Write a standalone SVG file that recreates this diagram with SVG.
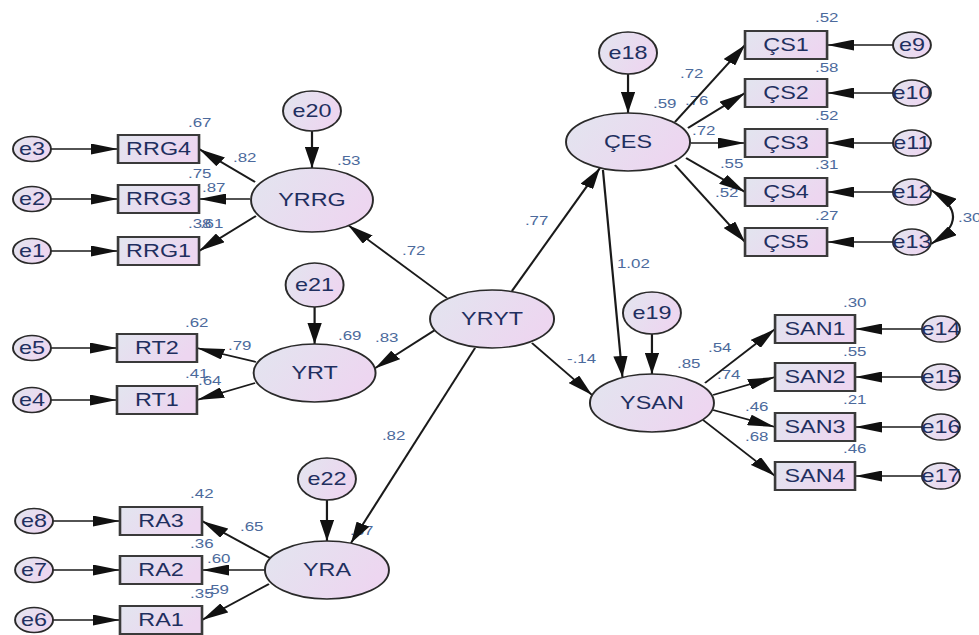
<svg xmlns="http://www.w3.org/2000/svg" width="979" height="635" viewBox="0 0 979 635">
<defs>
<linearGradient id="g" x1="0" y1="0" x2="1" y2="0.4">
<stop offset="0" stop-color="#e2e5ef"/>
<stop offset="1" stop-color="#edd6f0"/>
</linearGradient>
<marker id="ah" viewBox="0 0 21 11" refX="21" refY="5.5" markerWidth="21" markerHeight="11" markerUnits="userSpaceOnUse" orient="auto-start-reverse">
<path d="M0,0 L21,5.5 L0,11 z" fill="#111"/>
</marker>
<style>
.n{fill:url(#g);stroke:#2a2a2a;stroke-width:1.5}
.r{fill:url(#g);stroke:#3a3a3a;stroke-width:2}
.c{stroke:#1a1a1a;stroke-width:1.7;fill:none;marker-end:url(#ah)}
.cv{stroke:#1a1a1a;stroke-width:1.7;fill:none;marker-end:url(#ah);marker-start:url(#ah)}
.t{font-family:"Liberation Sans",Arial,sans-serif;font-size:18px;fill:#1f2f5f;text-anchor:middle}
.l{font-family:"Liberation Sans",Arial,sans-serif;font-size:13px;fill:#4c6a9c}
</style>
</defs>
<rect width="979" height="635" fill="#ffffff"/>
<g transform="scale(1.3,1)">
<g id="labels">
<text class="l" x="144.6" y="127">.67</text>
<text class="l" x="179.2" y="162">.82</text>
<text class="l" x="144.6" y="178">.75</text>
<text class="l" x="155.4" y="192">.87</text>
<text class="l" x="144.6" y="228">.38</text>
<text class="l" x="153.8" y="228">.61</text>
<text class="l" x="259.2" y="165">.53</text>
<text class="l" x="309.2" y="255">.72</text>
<text class="l" x="142.3" y="327">.62</text>
<text class="l" x="175.4" y="350">.79</text>
<text class="l" x="142.3" y="378">.41</text>
<text class="l" x="152.3" y="385">.64</text>
<text class="l" x="260" y="340">.69</text>
<text class="l" x="288.5" y="342">.83</text>
<text class="l" x="293.8" y="440">.82</text>
<text class="l" x="146.2" y="498">.42</text>
<text class="l" x="184.6" y="531">.65</text>
<text class="l" x="146.2" y="548">.36</text>
<text class="l" x="159.2" y="563">.60</text>
<text class="l" x="146.2" y="598">.35</text>
<text class="l" x="158.1" y="594">.59</text>
<text class="l" x="269.2" y="535">.67</text>
<text class="l" x="403.8" y="225">.77</text>
<text class="l" x="436.2" y="363">-.14</text>
<text class="l" x="474.6" y="268">1.02</text>
<text class="l" x="502.3" y="108">.59</text>
<text class="l" x="523.1" y="78">.72</text>
<text class="l" x="526.9" y="105">.76</text>
<text class="l" x="532.3" y="135">.72</text>
<text class="l" x="553.8" y="168">.55</text>
<text class="l" x="550" y="197">.52</text>
<text class="l" x="626.9" y="22">.52</text>
<text class="l" x="626.9" y="72">.58</text>
<text class="l" x="626.9" y="120">.52</text>
<text class="l" x="626.9" y="169">.31</text>
<text class="l" x="626.9" y="220">.27</text>
<text class="l" x="736.9" y="222">.30</text>
<text class="l" x="520.8" y="368">.85</text>
<text class="l" x="544.6" y="352">.54</text>
<text class="l" x="551.5" y="379">.74</text>
<text class="l" x="573.1" y="411">.46</text>
<text class="l" x="573.1" y="441">.68</text>
<text class="l" x="648.5" y="307">.30</text>
<text class="l" x="648.5" y="356">.55</text>
<text class="l" x="648.5" y="404">.21</text>
<text class="l" x="648.5" y="453">.46</text>
</g>
<g id="connectors">
<line class="c" x1="39.2" y1="149" x2="90.8" y2="149"/>
<line class="c" x1="39.2" y1="199" x2="90.8" y2="199"/>
<line class="c" x1="39.2" y1="251" x2="90.8" y2="251"/>
<line class="c" x1="39.2" y1="348" x2="90" y2="348"/>
<line class="c" x1="39.2" y1="400" x2="90" y2="400"/>
<line class="c" x1="40.8" y1="521" x2="92.3" y2="521"/>
<line class="c" x1="40.8" y1="570" x2="92.3" y2="570"/>
<line class="c" x1="40.8" y1="620" x2="92.3" y2="620"/>
<line class="c" x1="686.9" y1="45" x2="636.2" y2="45"/>
<line class="c" x1="686.9" y1="93" x2="636.2" y2="93"/>
<line class="c" x1="686.9" y1="143" x2="636.2" y2="143"/>
<line class="c" x1="686.9" y1="192" x2="636.2" y2="192"/>
<line class="c" x1="686.9" y1="242" x2="636.2" y2="242"/>
<line class="c" x1="709.2" y1="329" x2="657.7" y2="329"/>
<line class="c" x1="709.2" y1="377" x2="657.7" y2="377"/>
<line class="c" x1="709.2" y1="427" x2="657.7" y2="427"/>
<line class="c" x1="709.2" y1="476" x2="657.7" y2="476"/>
<line class="c" x1="240" y1="131" x2="240" y2="168"/>
<line class="c" x1="242" y1="307" x2="242" y2="344"/>
<line class="c" x1="251.5" y1="500" x2="251.5" y2="541"/>
<line class="c" x1="483.1" y1="74" x2="483.1" y2="113"/>
<line class="c" x1="501.5" y1="334" x2="501.5" y2="374"/>
<line class="c" x1="343.8" y1="298" x2="267.7" y2="225"/>
<line class="c" x1="334.6" y1="330" x2="288.3" y2="368.4"/>
<line class="c" x1="365.4" y1="348" x2="270" y2="543"/>
<line class="c" x1="393.8" y1="291" x2="461.5" y2="168"/>
<line class="c" x1="409.2" y1="343" x2="455.4" y2="395"/>
<line class="c" x1="463.8" y1="170" x2="478.8" y2="377"/>
<line class="c" x1="196.2" y1="182" x2="153.1" y2="149"/>
<line class="c" x1="192.3" y1="199" x2="153.1" y2="199"/>
<line class="c" x1="196.9" y1="216" x2="153.1" y2="251"/>
<line class="c" x1="196.9" y1="362" x2="151.5" y2="348"/>
<line class="c" x1="196.2" y1="383" x2="151.5" y2="400"/>
<line class="c" x1="207.7" y1="558" x2="155.4" y2="521"/>
<line class="c" x1="203.8" y1="570" x2="155.4" y2="570"/>
<line class="c" x1="206.9" y1="584" x2="155.4" y2="620"/>
<line class="c" x1="519.2" y1="122" x2="573.1" y2="45"/>
<line class="c" x1="529.2" y1="128" x2="573.1" y2="93"/>
<line class="c" x1="531.5" y1="143" x2="573.1" y2="143"/>
<line class="c" x1="527.7" y1="158" x2="573.1" y2="192"/>
<line class="c" x1="519.2" y1="165" x2="573.1" y2="242"/>
<line class="c" x1="542.3" y1="383" x2="596.2" y2="329"/>
<line class="c" x1="548.5" y1="395" x2="596.2" y2="377"/>
<line class="c" x1="548.5" y1="410" x2="596.2" y2="427"/>
<line class="c" x1="540.8" y1="420" x2="596.2" y2="476"/>
<path class="cv" d="M716.2,190 Q750,217 716.2,244"/>
</g>
<g id="YRYT"><ellipse class="n" cx="378.5" cy="319" rx="47.7" ry="29"/><text class="t" x="378.5" y="325.5">YRYT</text></g>
<g id="YRRG"><ellipse class="n" cx="240" cy="200" rx="46.9" ry="32"/><text class="t" x="240" y="206.5">YRRG</text></g>
<g id="YRT"><ellipse class="n" cx="242" cy="373" rx="46.9" ry="29"/><text class="t" x="242" y="379.5">YRT</text></g>
<g id="YRA"><ellipse class="n" cx="251.5" cy="570" rx="47.7" ry="29"/><text class="t" x="251.5" y="576.5">YRA</text></g>
<g id="CES"><ellipse class="n" cx="483.1" cy="142" rx="47.7" ry="29"/><text class="t" x="483.1" y="148.5">ÇES</text></g>
<g id="YSAN"><ellipse class="n" cx="501.5" cy="403" rx="47.7" ry="29"/><text class="t" x="501.5" y="409.5">YSAN</text></g>
<g id="e20"><ellipse class="n" cx="240" cy="111" rx="22.3" ry="20"/><text class="t" x="240" y="117.5">e20</text></g>
<g id="e21"><ellipse class="n" cx="242" cy="285" rx="22.3" ry="22"/><text class="t" x="242" y="291.5">e21</text></g>
<g id="e22"><ellipse class="n" cx="251.5" cy="479" rx="22.3" ry="21"/><text class="t" x="251.5" y="485.5">e22</text></g>
<g id="e18"><ellipse class="n" cx="483.1" cy="53" rx="22.3" ry="21"/><text class="t" x="483.1" y="59.5">e18</text></g>
<g id="e19"><ellipse class="n" cx="501.5" cy="313" rx="22.3" ry="21"/><text class="t" x="501.5" y="319.5">e19</text></g>
<g id="RRG4"><rect class="r" x="90.8" y="135" width="62.3" height="28"/><text class="t" x="122" y="155.5">RRG4</text></g>
<g id="RRG3"><rect class="r" x="90.8" y="185" width="62.3" height="28"/><text class="t" x="122" y="205.5">RRG3</text></g>
<g id="RRG1"><rect class="r" x="90.8" y="237" width="62.3" height="28"/><text class="t" x="122" y="257.5">RRG1</text></g>
<g id="RT2"><rect class="r" x="90" y="334" width="61.5" height="28"/><text class="t" x="120.75" y="354.5">RT2</text></g>
<g id="RT1"><rect class="r" x="90" y="386" width="61.5" height="28"/><text class="t" x="120.75" y="406.5">RT1</text></g>
<g id="RA3"><rect class="r" x="92.3" y="507" width="63.1" height="28"/><text class="t" x="123.85" y="527.5">RA3</text></g>
<g id="RA2"><rect class="r" x="92.3" y="556" width="63.1" height="28"/><text class="t" x="123.85" y="576.5">RA2</text></g>
<g id="RA1"><rect class="r" x="92.3" y="606" width="63.1" height="28"/><text class="t" x="123.85" y="626.5">RA1</text></g>
<g id="CS1"><rect class="r" x="573.1" y="31" width="63.1" height="28"/><text class="t" x="604.65" y="51.5">ÇS1</text></g>
<g id="CS2"><rect class="r" x="573.1" y="79" width="63.1" height="28"/><text class="t" x="604.65" y="99.5">ÇS2</text></g>
<g id="CS3"><rect class="r" x="573.1" y="129" width="63.1" height="28"/><text class="t" x="604.65" y="149.5">ÇS3</text></g>
<g id="CS4"><rect class="r" x="573.1" y="178" width="63.1" height="28"/><text class="t" x="604.65" y="198.5">ÇS4</text></g>
<g id="CS5"><rect class="r" x="573.1" y="228" width="63.1" height="28"/><text class="t" x="604.65" y="248.5">ÇS5</text></g>
<g id="SAN1"><rect class="r" x="596.2" y="315" width="61.5" height="28"/><text class="t" x="626.95" y="335.5">SAN1</text></g>
<g id="SAN2"><rect class="r" x="596.2" y="363" width="61.5" height="28"/><text class="t" x="626.95" y="383.5">SAN2</text></g>
<g id="SAN3"><rect class="r" x="596.2" y="413" width="61.5" height="28"/><text class="t" x="626.95" y="433.5">SAN3</text></g>
<g id="SAN4"><rect class="r" x="596.2" y="462" width="61.5" height="28"/><text class="t" x="626.95" y="482.5">SAN4</text></g>
<g id="e3"><ellipse class="n" cx="24.6" cy="149" rx="14.6" ry="12.5"/><text class="t" x="24.6" y="155.5">e3</text></g>
<g id="e2"><ellipse class="n" cx="24.6" cy="199" rx="14.6" ry="12.5"/><text class="t" x="24.6" y="205.5">e2</text></g>
<g id="e1"><ellipse class="n" cx="24.6" cy="251" rx="14.6" ry="12.5"/><text class="t" x="24.6" y="257.5">e1</text></g>
<g id="e5"><ellipse class="n" cx="24.6" cy="348" rx="14.6" ry="12.5"/><text class="t" x="24.6" y="354.5">e5</text></g>
<g id="e4"><ellipse class="n" cx="24.6" cy="400" rx="14.6" ry="12.5"/><text class="t" x="24.6" y="406.5">e4</text></g>
<g id="e8"><ellipse class="n" cx="26.2" cy="521" rx="14.6" ry="12.5"/><text class="t" x="26.2" y="527.5">e8</text></g>
<g id="e7"><ellipse class="n" cx="26.2" cy="570" rx="14.6" ry="12.5"/><text class="t" x="26.2" y="576.5">e7</text></g>
<g id="e6"><ellipse class="n" cx="26.2" cy="620" rx="14.6" ry="12.5"/><text class="t" x="26.2" y="626.5">e6</text></g>
<g id="e9"><ellipse class="n" cx="701.5" cy="45" rx="14.6" ry="13"/><text class="t" x="701.5" y="51.5">e9</text></g>
<g id="e10"><ellipse class="n" cx="701.5" cy="93" rx="14.6" ry="13"/><text class="t" x="701.5" y="99.5">e10</text></g>
<g id="e11"><ellipse class="n" cx="701.5" cy="143" rx="14.6" ry="13"/><text class="t" x="701.5" y="149.5">e11</text></g>
<g id="e12"><ellipse class="n" cx="701.5" cy="192" rx="14.6" ry="13"/><text class="t" x="701.5" y="198.5">e12</text></g>
<g id="e13"><ellipse class="n" cx="701.5" cy="242" rx="14.6" ry="13"/><text class="t" x="701.5" y="248.5">e13</text></g>
<g id="e14"><ellipse class="n" cx="723.8" cy="329" rx="14.6" ry="13"/><text class="t" x="723.8" y="335.5">e14</text></g>
<g id="e15"><ellipse class="n" cx="723.8" cy="377" rx="14.6" ry="13"/><text class="t" x="723.8" y="383.5">e15</text></g>
<g id="e16"><ellipse class="n" cx="723.8" cy="427" rx="14.6" ry="13"/><text class="t" x="723.8" y="433.5">e16</text></g>
<g id="e17"><ellipse class="n" cx="723.8" cy="476" rx="14.6" ry="13"/><text class="t" x="723.8" y="482.5">e17</text></g>
</g>
</svg>
